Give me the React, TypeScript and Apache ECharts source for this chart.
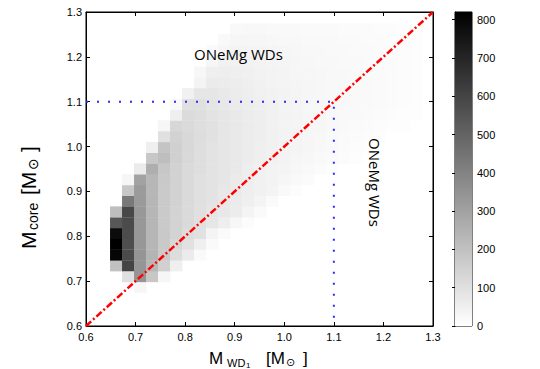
import React, { useEffect, useRef } from "react";
import * as echarts from "echarts";

// histogram bin lower edges (M_WD1 along x, M_core along y)
const xBinStarts = [
  0.6485, 0.6727, 0.6969, 0.7211, 0.7453, 0.7695, 0.7937, 0.8179, 0.8421, 0.8663,
  0.8905, 0.9147, 0.9389, 0.9631, 0.9873, 1.0115, 1.0357, 1.0599, 1.0841, 1.1083,
  1.1325, 1.1567, 1.1809, 1.2051, 1.2293, 1.2535,
];
const yBinStarts = [
  0.6747, 0.6987, 0.7227, 0.7467, 0.7707, 0.7947, 0.8187, 0.8427, 0.8667, 0.8907,
  0.9147, 0.9387, 0.9627, 0.9867, 1.0107, 1.0347, 1.0587, 1.0827, 1.1067, 1.1307,
  1.1547, 1.1787, 1.2027, 1.2267, 1.2507,
];
const xBinWidth = 0.0242;
const yBinWidth = 0.024;

// counts per bin, one row per y bin (bottom to top), one column per x bin
const counts = [
  [0, 0, 30, 0, 0, 0, 0, 0, 0, 0, 0, 0, 0, 0, 0, 0, 0, 0, 0, 0, 0, 0, 0, 0, 0, 0],
  [0, 100, 340, 180, 30, 0, 0, 0, 0, 0, 0, 0, 0, 0, 0, 0, 0, 0, 0, 0, 0, 0, 0, 0, 0, 0],
  [200, 600, 340, 230, 150, 50, 0, 0, 0, 0, 0, 0, 0, 0, 0, 0, 0, 0, 0, 0, 0, 0, 0, 0, 0, 0],
  [800, 580, 340, 240, 170, 110, 65, 15, 0, 0, 0, 0, 0, 0, 0, 0, 0, 0, 0, 0, 0, 0, 0, 0, 0, 0],
  [820, 570, 335, 235, 175, 130, 95, 50, 15, 0, 0, 0, 0, 0, 0, 0, 0, 0, 0, 0, 0, 0, 0, 0, 0, 0],
  [780, 575, 330, 235, 175, 140, 110, 95, 35, 15, 0, 0, 0, 0, 0, 0, 0, 0, 0, 0, 0, 0, 0, 0, 0, 0],
  [540, 580, 330, 235, 170, 140, 120, 100, 80, 55, 25, 10, 0, 0, 0, 0, 0, 0, 0, 0, 0, 0, 0, 0, 0, 0],
  [210, 590, 330, 235, 170, 140, 120, 100, 85, 75, 60, 35, 15, 0, 0, 0, 0, 0, 0, 0, 0, 0, 0, 0, 0, 0],
  [0, 430, 325, 235, 170, 145, 120, 100, 90, 75, 65, 50, 35, 15, 0, 0, 0, 0, 0, 0, 0, 0, 0, 0, 0, 0],
  [0, 180, 320, 230, 170, 145, 120, 100, 90, 75, 65, 55, 45, 35, 20, 10, 0, 0, 0, 0, 0, 0, 0, 0, 0, 0],
  [0, 30, 300, 230, 175, 145, 120, 100, 90, 80, 65, 55, 45, 40, 30, 20, 12, 0, 0, 0, 0, 0, 0, 0, 0, 0],
  [0, 0, 65, 260, 180, 145, 120, 105, 90, 80, 70, 55, 45, 40, 35, 25, 20, 12, 8, 0, 0, 0, 0, 0, 0, 0],
  [0, 0, 0, 180, 210, 150, 125, 105, 90, 80, 70, 60, 50, 45, 40, 30, 25, 20, 15, 12, 8, 0, 0, 0, 0, 0],
  [0, 0, 0, 50, 190, 150, 125, 105, 90, 80, 70, 60, 50, 45, 40, 35, 30, 22, 18, 14, 10, 6, 0, 0, 0, 0],
  [0, 0, 0, 0, 100, 145, 125, 110, 95, 80, 70, 60, 55, 45, 40, 35, 30, 25, 20, 16, 12, 10, 6, 0, 0, 0],
  [0, 0, 0, 0, 30, 130, 120, 105, 95, 80, 70, 60, 55, 45, 40, 35, 30, 28, 22, 18, 15, 12, 10, 8, 5, 0],
  [0, 0, 0, 0, 0, 50, 115, 105, 90, 80, 70, 60, 55, 45, 40, 35, 30, 28, 24, 20, 18, 15, 12, 10, 8, 5],
  [0, 0, 0, 0, 0, 20, 100, 100, 85, 75, 65, 58, 50, 45, 40, 35, 30, 28, 24, 22, 20, 18, 15, 12, 10, 6],
  [0, 0, 0, 0, 0, 0, 45, 80, 80, 70, 62, 55, 48, 42, 38, 34, 30, 27, 24, 22, 20, 18, 15, 13, 10, 6],
  [0, 0, 0, 0, 0, 0, 0, 35, 65, 62, 58, 52, 46, 40, 36, 32, 29, 26, 24, 22, 20, 18, 15, 13, 10, 7],
  [0, 0, 0, 0, 0, 0, 0, 25, 50, 55, 52, 48, 42, 38, 34, 30, 28, 25, 23, 21, 19, 17, 15, 13, 10, 7],
  [0, 0, 0, 0, 0, 0, 0, 0, 30, 45, 45, 42, 38, 35, 32, 28, 26, 24, 22, 20, 18, 16, 14, 12, 10, 7],
  [0, 0, 0, 0, 0, 0, 0, 0, 15, 30, 38, 36, 34, 31, 28, 26, 24, 22, 20, 18, 17, 15, 13, 12, 10, 7],
  [0, 0, 0, 0, 0, 0, 0, 0, 0, 20, 28, 30, 28, 26, 24, 22, 20, 19, 18, 16, 15, 14, 12, 11, 9, 6],
  [0, 0, 0, 0, 0, 0, 0, 0, 0, 0, 18, 22, 22, 20, 19, 18, 17, 16, 15, 14, 13, 12, 11, 10, 8, 6],
];

const massMin = 0.6;
const massMax = 1.3;
const massStep = 0.1;
const colorMin = 0;
const colorMax = 820;
const colorStep = 100;
const equalMassLine = [
  [0.6, 0.6],
  [1.3, 1.3],
];
const oneMgLimit = [
  [0.6, 1.1],
  [1.1, 1.1],
  [1.1, 0.6],
];
const annotation = "ONeMg WDs";

const FONT = "Liberation Sans, Arial, sans-serif";
const ANNOT_FONT = "Open Sans, Noto Sans, sans-serif";

export default function App() {
  const ref = useRef<HTMLDivElement>(null);
  useEffect(() => {
    const chart = echarts.init(ref.current!, null, { renderer: "svg" });
    const cells: number[][] = [];
    counts.forEach((row, j) =>
      row.forEach((c, i) => {
        if (c > 0) cells.push([xBinStarts[i], yBinStarts[j], c]);
      })
    );

    const fmt = (v: number) => v.toFixed(1);
    const axisCommon = {
      type: "value",
      min: massMin,
      max: massMax,
      interval: massStep,
      splitLine: { show: false },
      axisLine: { show: true, lineStyle: { color: "#000", width: 1 } },
      axisTick: { show: true, inside: true, length: 4, lineStyle: { color: "#000" } },
    };

    const big = { fontFamily: FONT, fontSize: 17, fill: "#000" };
    const sub = { fontFamily: FONT, fontSize: 11, fill: "#000" };
    const ybig = { fontFamily: FONT, fontSize: 21, fill: "#000" };
    const ysub = { fontFamily: FONT, fontSize: 14, fill: "#000" };

    const option: any = {
      animation: false,
      backgroundColor: "#fff",
      grid: [
        { left: 86, top: 12, width: 347, height: 314, show: true, borderColor: "#000", borderWidth: 1 },
        { left: 455, top: 12, width: 17, height: 314, show: true, borderColor: "#000", borderWidth: 1 },
      ],
      xAxis: [
        {
          ...axisCommon,
          gridIndex: 0,
          position: "bottom",
          axisLabel: { formatter: fmt, fontFamily: FONT, fontSize: 11, color: "#000", margin: 5 },
        },
        { ...axisCommon, gridIndex: 0, position: "top", axisLabel: { show: false } },
        { type: "value", gridIndex: 1, min: 0, max: 1, show: false },
      ],
      yAxis: [
        {
          ...axisCommon,
          gridIndex: 0,
          position: "left",
          axisLabel: { formatter: fmt, fontFamily: FONT, fontSize: 11, color: "#000", margin: 4 },
        },
        { ...axisCommon, gridIndex: 0, position: "right", axisLabel: { show: false } },
        {
          type: "value",
          gridIndex: 1,
          position: "right",
          min: colorMin,
          max: colorMax,
          interval: colorStep,
          splitLine: { show: false },
          axisLine: { show: true, lineStyle: { color: "#000", width: 1 } },
          axisTick: { show: true, inside: true, length: 3, lineStyle: { color: "#000" } },
          axisLabel: {
            showMaxLabel: false,
            fontFamily: FONT,
            fontSize: 11,
            color: "#000",
            margin: 5,
            formatter: (v: number) => (v % colorStep === 0 ? String(v) : ""),
          },
        },
      ],
      visualMap: {
        show: false,
        type: "continuous",
        min: colorMin,
        max: colorMax,
        dimension: 2,
        seriesIndex: 0,
        inRange: { color: ["#ffffff", "#000000"] },
      },
      series: [
        {
          type: "custom",
          xAxisIndex: 0,
          yAxisIndex: 0,
          data: cells,
          encode: { x: 0, y: 1 },
          z: 1,
          renderItem: (params: any, api: any) => {
            const x0 = api.value(0);
            const y0 = api.value(1);
            const p0 = api.coord([x0, y0]);
            const p1 = api.coord([x0 + xBinWidth, y0 + yBinWidth]);
            return {
              type: "rect",
              shape: { x: p0[0], y: p1[1], width: p1[0] - p0[0] + 0.4, height: p0[1] - p1[1] + 0.4 },
              style: { fill: api.visual("color") },
            };
          },
        },
        {
          type: "custom",
          xAxisIndex: 2,
          yAxisIndex: 2,
          data: [[0, colorMin, colorMax]],
          z: 1,
          renderItem: (params: any, api: any) => {
            const p0 = api.coord([0, api.value(1)]);
            const p1 = api.coord([1, api.value(2)]);
            return {
              type: "rect",
              shape: { x: p0[0], y: p1[1], width: p1[0] - p0[0], height: p0[1] - p1[1] },
              style: {
                fill: new echarts.graphic.LinearGradient(0, 0, 0, 1, [
                  { offset: 0, color: "#000000" },
                  { offset: 1, color: "#ffffff" },
                ]),
              },
            };
          },
        },
        {
          type: "line",
          xAxisIndex: 0,
          yAxisIndex: 0,
          data: oneMgLimit,
          symbol: "none",
          z: 3,
          lineStyle: { color: "#2a2aff", width: 2, type: [2, 9] },
        },
        {
          type: "line",
          xAxisIndex: 0,
          yAxisIndex: 0,
          data: equalMassLine,
          symbol: "none",
          z: 4,
          lineStyle: { color: "#ff0000", width: 2.5, type: [7, 2.5, 2, 2.5] },
        },
      ],
      graphic: [
        {
          type: "text",
          x: 194,
          y: 54,
          z: 100,
          style: { text: annotation, fontFamily: ANNOT_FONT, fontSize: 15, fill: "#000", align: "left", verticalAlign: "middle" },
        },
        {
          type: "text",
          x: 375,
          y: 138,
          z: 100,
          rotation: -Math.PI / 2,
          style: { text: annotation, fontFamily: ANNOT_FONT, fontSize: 15, fill: "#000", align: "left", verticalAlign: "middle" },
        },
        // x-axis title: M_WD1 [M_sun]
        {
          type: "group",
          z: 100,
          children: [
            { type: "text", x: 209, y: 358.5, style: { ...big, text: "M", verticalAlign: "middle" } },
            { type: "text", x: 227, y: 363, style: { ...sub, text: "WD", verticalAlign: "middle" } },
            { type: "text", x: 246, y: 365, style: { ...sub, fontSize: 8, text: "1", verticalAlign: "middle" } },
            { type: "text", x: 266, y: 358.5, style: { ...big, text: "[M", verticalAlign: "middle" } },
            { type: "text", x: 286, y: 362, style: { ...sub, text: "\u2299", fontFamily: "DejaVu Sans", verticalAlign: "middle" } },
            { type: "text", x: 303, y: 358.5, style: { ...big, text: "]", verticalAlign: "middle" } },
          ],
        },
        // y-axis title: M_core [M_sun]
        {
          type: "group",
          x: 28,
          y: 249,
          z: 100,
          rotation: Math.PI / 2,
          children: [
            { type: "text", x: 0, y: 0, style: { ...ybig, text: "M", verticalAlign: "middle" } },
            { type: "text", x: 19, y: 5, style: { ...ysub, text: "core", verticalAlign: "middle" } },
            { type: "text", x: 54, y: 0, style: { ...ybig, text: "[M", verticalAlign: "middle" } },
            { type: "text", x: 79, y: 4.5, style: { ...ysub, text: "\u2299", fontFamily: "DejaVu Sans", verticalAlign: "middle" } },
            { type: "text", x: 97, y: 0, style: { ...ybig, text: "]", verticalAlign: "middle" } },
          ],
        },
      ],
    };
    chart.setOption(option);
    return () => chart.dispose();
  }, []);
  return <div ref={ref} style={{ position: "fixed", left: 0, top: 0, width: 540, height: 369 }} />;
}
